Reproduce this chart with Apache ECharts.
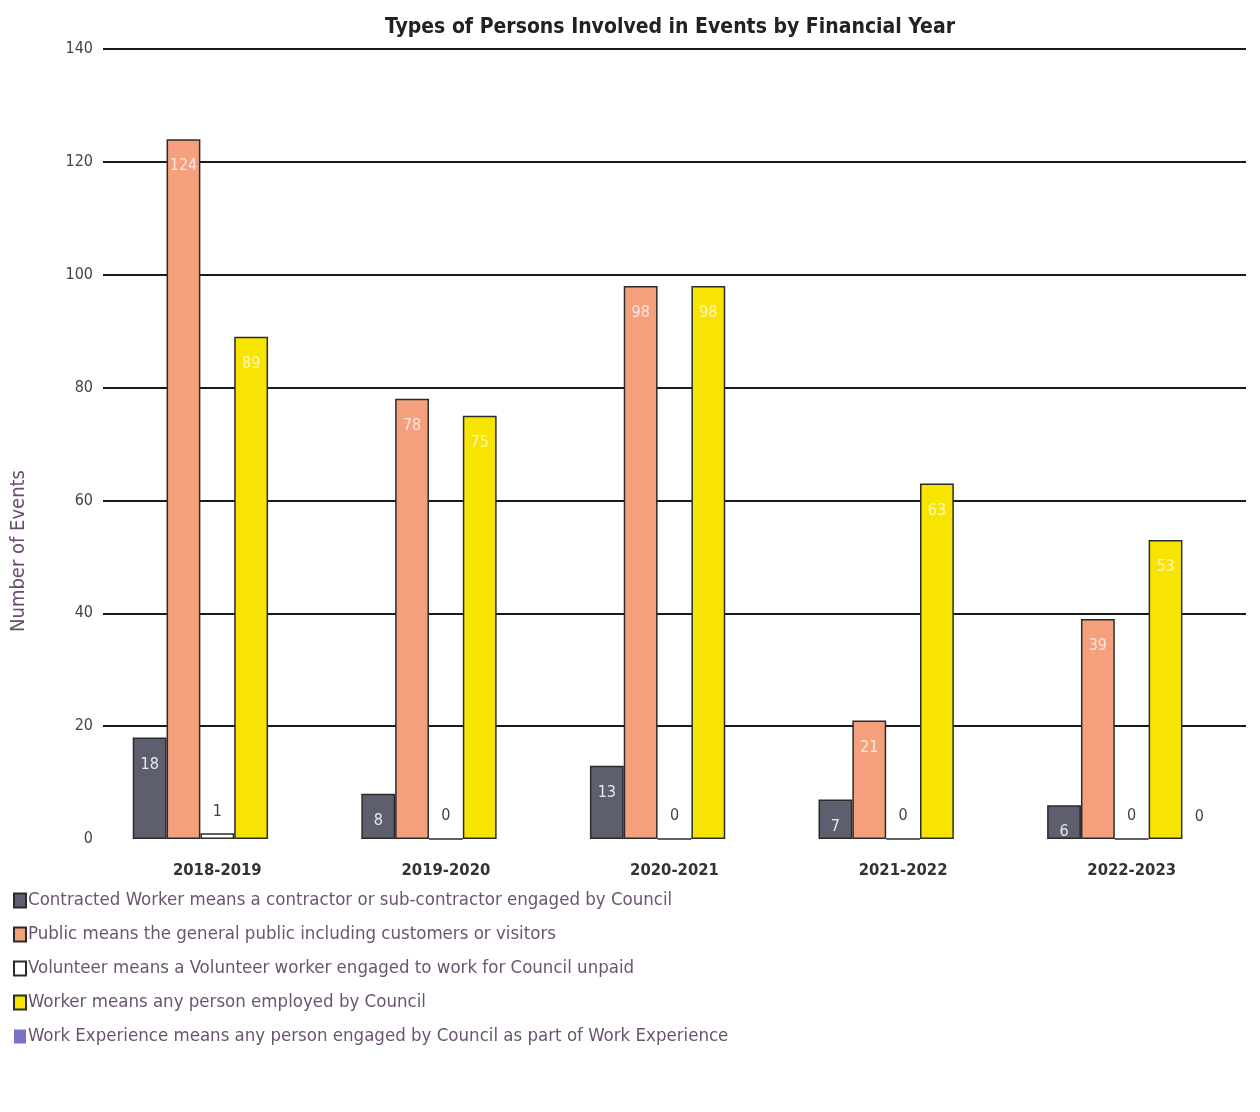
<!DOCTYPE html>
<html>
<head>
<meta charset="utf-8">
<script src="https://cdn.jsdelivr.net/npm/echarts@6/dist/echarts.min.js"></script>
<style>
  html, body { margin: 0; padding: 0; background: #fff; }
  #chart { width: 1260px; height: 1112px; }
</style>
</head>
<body>
<div id="chart"></div>
<script>
  // data
  const years = ['2018-2019', '2019-2020', '2020-2021', '2021-2022', '2022-2023'];
  const contracted = [18, 8, 13, 7, 6];
  const publicPersons = [124, 78, 98, 21, 39];
  const volunteer = [1, 0, 0, 0, 0];
  const worker = [89, 75, 98, 63, 53];
  const workExperience = [null, null, null, null, 0];
  const yTicks = [0, 20, 40, 60, 80, 100, 120, 140];

  const names = [
    'Contracted Worker means a contractor or sub-contractor engaged by Council',
    'Public means the general public including customers or visitors',
    'Volunteer means a Volunteer worker engaged to work for Council unpaid',
    'Worker means any person employed by Council',
    'Work Experience means any person engaged by Council as part of Work Experience'
  ];

  const font = '"Liberation Sans Narrow", "DejaVu Sans Condensed", "Liberation Sans", sans-serif';
  const chart = echarts.init(document.getElementById('chart'));

  const innerLabel = (color) => ({
    show: true,
    position: 'insideTop',
    distance: 19,
    color: color,
    fontFamily: font,
    fontSize: 16
  });
  const zeroLabel = {
    show: true,
    position: 'top',
    distance: 14,
    color: '#4a3a55',
    fontFamily: font,
    fontSize: 16
  };
  const border = { borderColor: '#2b2b2b', borderWidth: 1.5 };

  chart.setOption({
    backgroundColor: '#fff',
    animation: false,
    title: {
      text: 'Types of Persons Involved in Events by Financial Year',
      left: 665,
      textAlign: 'center',
      top: 12,
      textStyle: { fontFamily: font, fontSize: 21, fontWeight: 'bold', color: '#222' }
    },
    legend: {
      orient: 'vertical',
      left: 8,
      top: 886,
      itemWidth: 12,
      itemHeight: 14,
      itemGap: 15,
      icon: 'rect',
      data: names,
      textStyle: { fontFamily: font, fontSize: 18.5, color: '#6a5470', lineHeight: 19, padding: [0, 0, 0, -3] }
    },
    graphic: [{
      type: 'text',
      x: 9,
      y: 551,
      rotation: Math.PI / 2,
      style: {
        text: 'Number of Events',
        fill: '#6a4a70',
        font: '20px ' + font,
        textAlign: 'center',
        textVerticalAlign: 'top'
      }
    }],
    grid: { left: 103, right: 14, top: 49, bottom: 273 },
    xAxis: {
      type: 'category',
      data: years,
      axisLine: { show: false },
      axisTick: { show: false },
      axisLabel: { margin: 23, color: '#333', fontFamily: font, fontSize: 16.5, fontWeight: 'bold' }
    },
    yAxis: {
      type: 'value',
      min: yTicks[0],
      max: yTicks[yTicks.length - 1],
      interval: 20,
      axisLine: { show: false },
      axisTick: { show: false },
      axisLabel: { margin: 10, color: '#444', fontFamily: font, fontSize: 16 },
      splitLine: {
        lineStyle: {
          color: yTicks.map((t) => (t === 0 ? 'rgba(0,0,0,0)' : '#1a1a1a')),
          width: 2
        }
      }
    },
    series: [
      {
        name: names[0], type: 'bar', data: contracted, barGap: 0, barCategoryGap: '26%',
        itemStyle: Object.assign({ color: '#5d5f6e' }, border),
        label: innerLabel('#e8e8ee')
      },
      {
        name: names[1], type: 'bar', data: publicPersons,
        itemStyle: Object.assign({ color: '#f4a07c' }, border),
        label: innerLabel('#fde6e0')
      },
      {
        name: names[2], type: 'bar', data: volunteer,
        itemStyle: Object.assign({ color: '#ffffff' }, border),
        label: zeroLabel
      },
      {
        name: names[3], type: 'bar', data: worker,
        itemStyle: Object.assign({ color: '#f7e400' }, border),
        label: innerLabel('#fdf6c0')
      },
      {
        name: names[4], type: 'bar', data: workExperience,
        itemStyle: { color: '#7a72c8', borderColor: '#7a72c8', borderWidth: 0 },
        label: zeroLabel
      }
    ]
  });
</script>
</body>
</html>
